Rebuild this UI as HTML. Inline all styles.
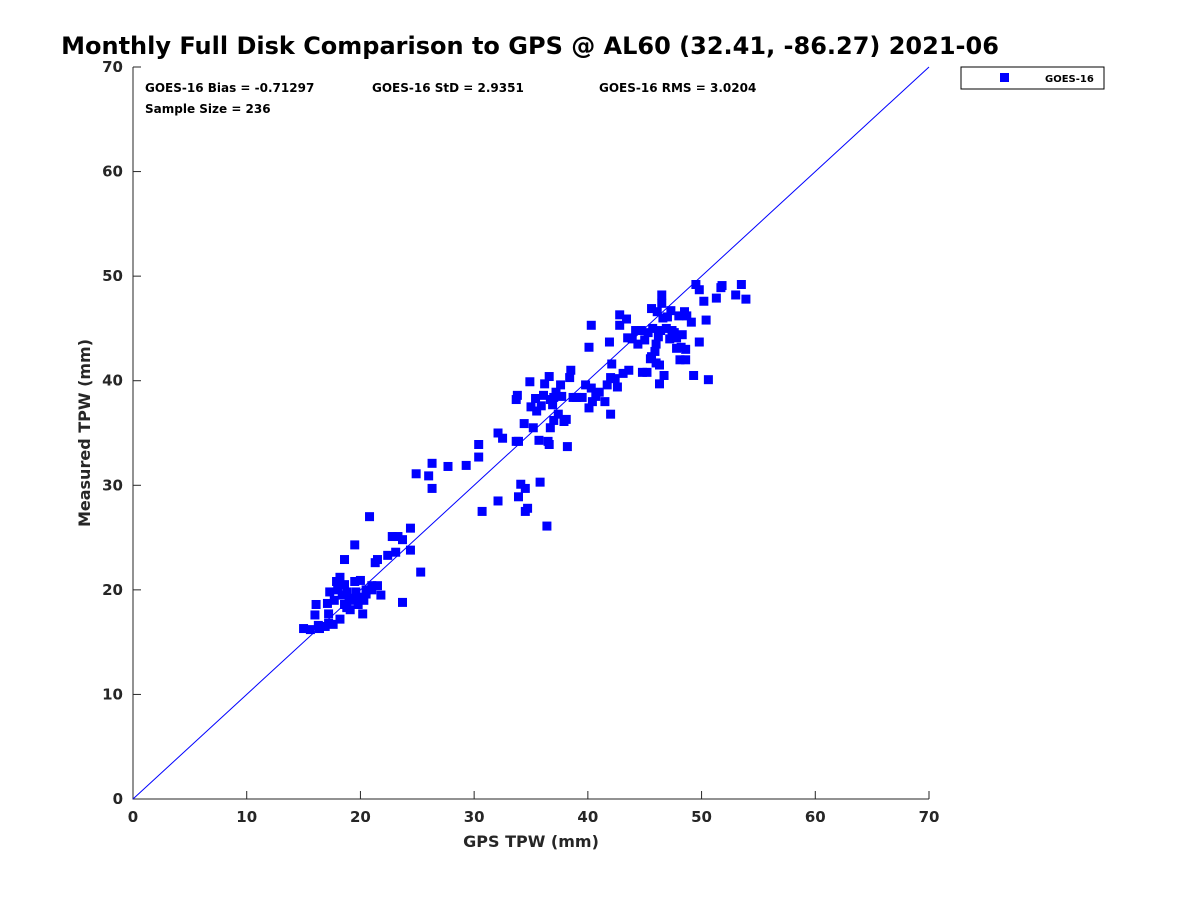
<!DOCTYPE html>
<html><head><meta charset="utf-8"><style>
body{margin:0;background:#fff;font-family:"DejaVu Sans",sans-serif;}
svg text{font-family:"DejaVu Sans","Liberation Sans",sans-serif;font-weight:bold;}
</style></head><body>
<svg id="chart" width="1200" height="900" xmlns="http://www.w3.org/2000/svg">
<rect width="1200" height="900" fill="#fff"/>
<text x="530" y="54" text-anchor="middle" font-size="24" fill="#000">Monthly Full Disk Comparison to GPS @ AL60 (32.41, -86.27) 2021-06</text>
<text x="145" y="92" font-size="12">GOES-16 Bias = -0.71297</text>
<text x="372" y="92" font-size="12">GOES-16 StD = 2.9351</text>
<text x="599" y="92" font-size="12">GOES-16 RMS = 3.0204</text>
<text x="145" y="113" font-size="12">Sample Size = 236</text>
<g id="axes"></g>
<g id="marks"></g>
<g>
<rect x="961" y="67" width="143" height="22" fill="#fff" stroke="#000" stroke-width="1"/>
<rect x="1000" y="73" width="9" height="9" fill="#0000ff"/>
<text x="1045" y="82" font-size="10">GOES-16</text>
</g>
<text x="531" y="847" text-anchor="middle" font-size="16" fill="#262626">GPS TPW (mm)</text>
<text transform="translate(90,433) rotate(-90)" text-anchor="middle" font-size="16" fill="#262626">Measured TPW (mm)</text>
</svg>
<script>
const xTicks=[0,10,20,30,40,50,60,70];
const yTicks=[0,10,20,30,40,50,60,70];
const gpsX=[15.0,15.6,16.0,16.1,16.4,16.9,17.1,17.2,17.3,17.6,17.7,17.9,18.0,18.2,18.2,18.4,18.6,18.6,18.8,19.0,19.1,19.3,19.5,19.5,19.6,19.8,20.0,20.2,20.2,20.3,20.5,20.8,21.0,21.3,21.5,21.5,21.8,22.4,22.8,23.1,23.3,23.7,23.7,24.4,24.4,25.3,24.9,26.0,26.3,26.3,27.7,29.3,30.4,30.4,30.7,32.1,32.1,32.5,33.7,33.9,33.8,33.7,33.9,34.1,34.5,34.5,34.7,34.4,34.9,35.0,35.2,35.4,35.5,35.7,35.8,35.9,36.1,36.2,36.4,36.5,36.6,36.6,36.7,36.7,36.9,37.0,37.0,37.2,37.4,37.6,37.7,37.9,38.1,38.2,38.4,38.5,38.7,39.0,39.5,39.8,40.1,40.1,40.3,40.3,40.4,40.7,41.0,41.5,41.7,41.9,42.0,42.0,42.1,42.4,42.6,42.8,42.8,43.1,43.4,43.5,43.6,43.9,44.2,44.4,44.7,44.8,45.0,45.2,45.3,45.5,45.6,45.6,45.7,45.9,46.0,46.0,46.1,46.2,46.3,46.3,46.4,46.5,46.5,46.6,46.7,46.9,47.0,47.2,47.3,47.4,47.6,47.8,47.8,48.0,48.1,48.2,48.3,48.5,48.6,48.6,48.7,49.1,49.3,49.5,49.8,49.8,50.2,50.4,50.6,51.3,51.7,51.8,53.0,53.5,53.9,16.3,17.2,18.6,18.8,20.0,20.5,21.0];
const measY=[16.3,16.2,17.6,18.6,16.3,16.5,18.7,17.7,19.8,16.7,19.0,20.8,20.0,21.2,17.2,19.5,22.9,18.6,19.8,19.2,18.1,19.0,24.3,20.8,19.8,18.6,20.9,19.2,17.7,19.0,19.6,27.0,20.4,22.6,20.4,22.9,19.5,23.3,25.1,23.6,25.1,24.8,18.8,25.9,23.8,21.7,31.1,30.9,32.1,29.7,31.8,31.9,33.9,32.7,27.5,28.5,35.0,34.5,34.2,34.2,38.6,38.2,28.9,30.1,29.7,27.5,27.8,35.9,39.9,37.5,35.5,38.3,37.1,34.3,30.3,37.6,38.6,39.7,26.1,34.2,40.4,33.9,35.5,38.2,37.7,38.4,36.2,38.9,36.8,39.6,38.5,36.1,36.3,33.7,40.3,41.0,38.4,38.4,38.4,39.6,37.4,43.2,45.3,39.3,38.0,38.5,38.9,38.0,39.6,43.7,40.3,36.8,41.6,40.2,39.4,46.3,45.3,40.7,45.9,44.1,41.0,44.0,44.8,43.5,44.8,40.8,43.9,40.8,44.6,42.1,46.9,42.3,45.0,42.8,41.7,43.5,46.6,44.2,41.5,39.7,44.8,48.2,47.4,46.0,40.5,45.0,46.1,44.0,46.7,44.8,44.6,43.1,44.1,46.2,42.0,43.2,44.4,46.6,42.0,43.0,46.2,45.6,40.5,49.2,48.7,43.7,47.6,45.8,40.1,47.9,48.9,49.1,48.2,49.2,47.8,16.6,16.8,20.5,18.3,19.3,20.0,20.0];
const NS='http://www.w3.org/2000/svg';
const X0=133,X1=929,Y0=799,Y1=67;
const sx=v=>X0+(v-0)/70*(X1-X0);
const sy=v=>Y0-(v-0)/70*(Y0-Y1);
const axes=document.getElementById('axes'),marks=document.getElementById('marks');
function mk(tag,attrs,parent){const e=document.createElementNS(NS,tag);for(const k in attrs)e.setAttribute(k,attrs[k]);parent.appendChild(e);return e;}
const frame=mk('path',{d:`M${X0},${Y1}V${Y0}H${X1}`,fill:'none',stroke:'#262626','stroke-width':1},axes);


xTicks.forEach(t=>{
  const l=mk('line',{x1:sx(t),x2:sx(t),y1:Y0,y2:Y0-8,stroke:'#262626'},axes);
  
  
  const tx=mk('text',{x:sx(t),y:Y0+23,'text-anchor':'middle','font-size':15,fill:'#262626'},axes);
  tx.textContent=t;
  
  
});
yTicks.forEach(t=>{
  const l=mk('line',{x1:X0,x2:X0+8,y1:sy(t),y2:sy(t),stroke:'#262626'},axes);
  
  
  const tx=mk('text',{x:X0-10,y:sy(t)+5,'text-anchor':'end','font-size':15,fill:'#262626'},axes);
  tx.textContent=t;
  
  
});
const ref=mk('line',{x1:sx(0),y1:sy(0),x2:sx(70),y2:sy(70),stroke:'#0000ff','stroke-width':1},marks);


gpsX.forEach((x,i)=>{
  const r=mk('rect',{x:sx(x)-4.5,y:sy(measY[i])-4.5,width:9,height:9,fill:'#0000ff'},marks);
  
  
});
</script>
</body></html>
